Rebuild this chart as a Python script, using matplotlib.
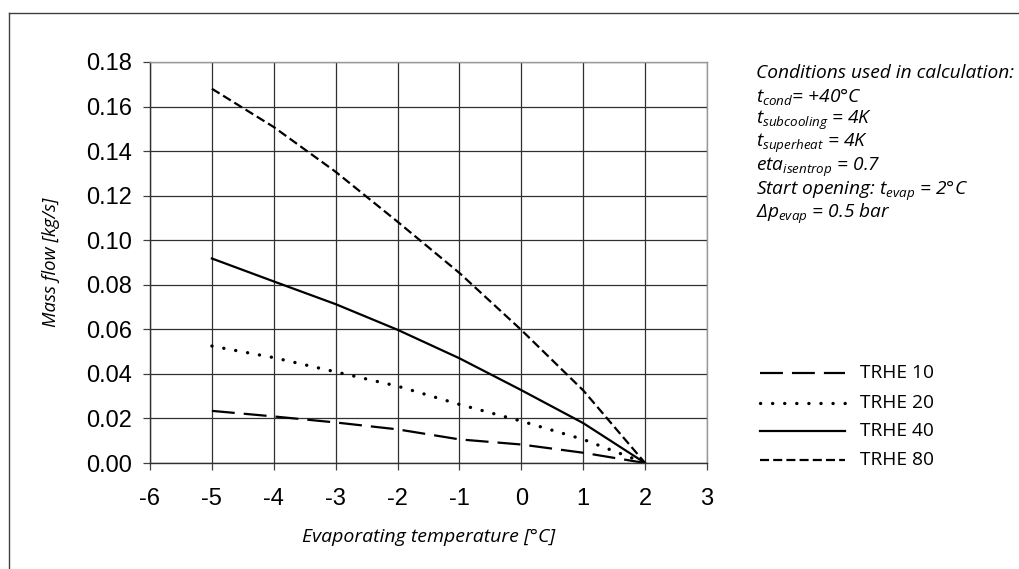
import numpy as np
import matplotlib
matplotlib.use('Agg')
import matplotlib.pyplot as plt
from matplotlib.lines import Line2D

# evaporating temperature [°C] and mass flow [kg/s] per valve size
t_evap = [-5, -4, -3, -2, -1, 0, 1, 2]
trhe_10 = [0.0234, 0.0209, 0.0182, 0.0151, 0.0106, 0.0083, 0.0046, 0.0]
trhe_20 = [0.0525, 0.0473, 0.0409, 0.0345, 0.0263, 0.0188, 0.0106, 0.0]
trhe_40 = [0.0918, 0.0815, 0.0713, 0.0598, 0.0470, 0.0327, 0.0179, 0.0]
trhe_80 = [0.1680, 0.1508, 0.1307, 0.1083, 0.0853, 0.0597, 0.0326, 0.0]

series = [('TRHE 10', trhe_10), ('TRHE 20', trhe_20),
          ('TRHE 40', trhe_40), ('TRHE 80', trhe_80)]
x_ticks = [-6, -5, -4, -3, -2, -1, 0, 1, 2, 3]
y_ticks = [0.00, 0.02, 0.04, 0.06, 0.08, 0.10, 0.12, 0.14, 0.16, 0.18]

conditions = [
    'Conditions used in calculation:',
    r'$t_{cond}$= +40°C',
    r'$t_{subcooling}$ = 4K',
    r'$t_{superheat}$ = 4K',
    r'$eta_{isentrop}$ = 0.7',
    r'Start opening: $t_{evap}$ = 2°C',
    r'$\Delta p_{evap}$ = 0.5 bar',
]

plt.rcParams['lines.scale_dashes'] = False
plt.rcParams['mathtext.fontset'] = 'custom'
plt.rcParams['mathtext.it'] = 'Open Sans:italic'
plt.rcParams['mathtext.rm'] = 'Open Sans:italic'
plt.rcParams['mathtext.sf'] = 'Open Sans:italic'

styles = {
    'TRHE 10': dict(linestyle=(0, (16.5, 6.5)), linewidth=1.6),
    'TRHE 20': dict(linestyle=(0, (0.1, 8.6)), linewidth=2.4, dash_capstyle='round'),
    'TRHE 40': dict(linestyle='-', linewidth=1.6),
    'TRHE 80': dict(linestyle=(0, (6.5, 3.0)), linewidth=1.6),
}

fig = plt.figure(figsize=(10.19, 5.69), dpi=100)
ax = fig.add_axes([150 / 1019, 1 - 463 / 569, 557 / 1019, 401 / 569])

for name, vals in series:
    ax.plot(t_evap, vals, color='black', label=name, **styles[name])

ax.set_xlim(-6, 3)
ax.set_ylim(0, 0.18)
ax.set_xticks(x_ticks)
ax.set_yticks(y_ticks)
ax.set_xticklabels([str(t) for t in x_ticks], fontsize=17, family='Liberation Sans')
ax.set_yticklabels([f'{v:.2f}' for v in y_ticks], fontsize=17, family='Liberation Sans')
ax.tick_params(direction='out', length=5, width=0.9, color='#404040')
ax.tick_params(axis='y', pad=8)
ax.tick_params(axis='x', pad=13)
ax.grid(True, color='#303030', linewidth=0.9)
ax.set_axisbelow(True)
for side in ['left', 'bottom']:
    ax.spines[side].set_color('#303030')
for side in ['top', 'right']:
    ax.spines[side].set_color('#999999')
for sp in ax.spines.values():
    sp.set_linewidth(1.0)

ax.set_xlabel('Evaporating temperature [°C]', family='Open Sans', style='italic',
              fontsize=14, labelpad=13)
ax.set_ylabel('Mass flow [kg/s]', family='Open Sans', style='italic',
              fontsize=13.3, labelpad=19)

# calculation conditions
y0 = 73
for i, line in enumerate(conditions):
    fig.text(756 / 1019, 1 - (y0 + i * 23.5) / 569, line, family='Open Sans',
             style='italic', fontsize=13.8, va='center', ha='left')

# legend drawn as line samples with labels
leg_rows = [373, 403, 431, 460]
for (name, _), yy in zip(series, leg_rows):
    yf = 1 - yy / 569
    fig.add_artist(Line2D([760 / 1019, 845 / 1019], [yf, yf], color='black',
                          **styles[name]))
    fig.text(860 / 1019, yf, name, family='Open Sans', fontsize=13.8,
             va='center', ha='left')

# frame lines along top and left edge
fig.add_artist(Line2D([9 / 1019, 1.0], [1 - 13 / 569, 1 - 13 / 569], color='#404040', linewidth=1.0))
fig.add_artist(Line2D([9 / 1019, 9 / 1019], [0, 1 - 13 / 569], color='#404040', linewidth=1.0))

fig.savefig('out.png', dpi=100)
